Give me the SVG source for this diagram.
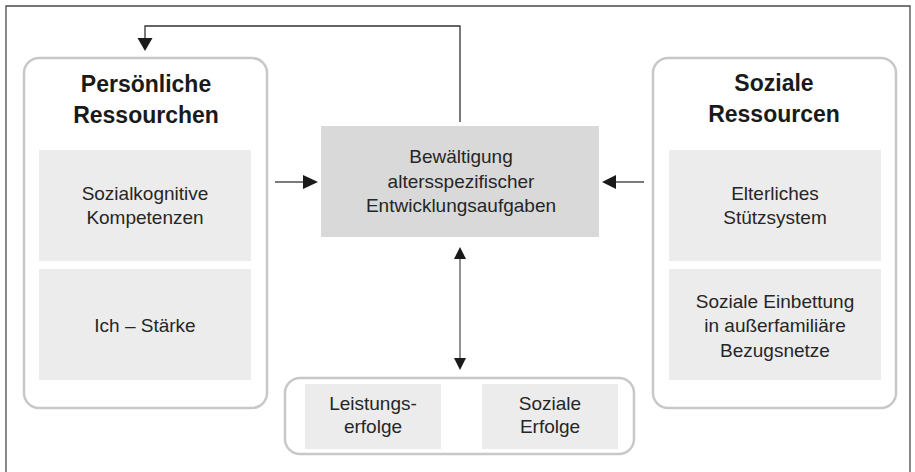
<svg xmlns="http://www.w3.org/2000/svg" width="915" height="472" viewBox="0 0 915 472">
<style>
.frame{fill:none;stroke:#4a4a4a;stroke-width:1.3}
.group{fill:#fff;stroke:#c8c8c8;stroke-width:2.5}
.inner{fill:#ececec}
.center{fill:#d9d9d9}
.t{font-family:"Liberation Sans",Arial,sans-serif;font-size:19px;fill:#262626;text-anchor:middle}
.h{font-family:"Liberation Sans",Arial,sans-serif;font-size:23px;font-weight:bold;fill:#1a1a1a;text-anchor:middle}
.c{fill:none;stroke:#333;stroke-width:1.3}
.cg{fill:none;stroke:#777;stroke-width:1.6}
.ah{fill:#1a1a1a}
</style>
<path class="frame" d="M6,472 V6 H910 V472"/>
<g id="persoenliche">
<rect class="group" x="24" y="58" width="243" height="350" rx="15"/>
<text class="h" x="146" y="92">Persönliche</text>
<text class="h" x="146" y="123">Ressourchen</text>
</g>
<g id="sozialkognitive">
<rect class="inner" x="39" y="150" width="212" height="111"/>
<text class="t" x="145" y="200">Sozialkognitive</text>
<text class="t" x="145" y="224">Kompetenzen</text>
</g>
<g id="ichstaerke">
<rect class="inner" x="39" y="269" width="212" height="111"/>
<text class="t" x="145" y="332">Ich – Stärke</text>
</g>
<g id="soziale">
<rect class="group" x="653" y="58" width="243" height="350" rx="15"/>
<text class="h" x="774" y="91">Soziale</text>
<text class="h" x="774" y="122">Ressourcen</text>
</g>
<g id="elterliches">
<rect class="inner" x="669" y="150" width="212" height="111"/>
<text class="t" x="775" y="200">Elterliches</text>
<text class="t" x="775" y="224">Stützsystem</text>
</g>
<g id="einbettung">
<rect class="inner" x="669" y="269" width="212" height="111"/>
<text class="t" x="775" y="308">Soziale Einbettung</text>
<text class="t" x="775" y="332">in außerfamiliäre</text>
<text class="t" x="775" y="357">Bezugsnetze</text>
</g>
<g id="bewaeltigung">
<rect class="center" x="321" y="126" width="278" height="111"/>
<text class="t" x="461" y="163">Bewältigung</text>
<text class="t" x="461" y="188">altersspezifischer</text>
<text class="t" x="461" y="212">Entwicklungsaufgaben</text>
</g>
<g id="erfolge">
<rect class="group" x="285" y="378" width="349" height="76" rx="15"/>
<rect class="inner" x="305" y="384" width="136" height="65"/>
<rect class="inner" x="482" y="384" width="136" height="65"/>
<text class="t" x="373" y="410">Leistungs-</text>
<text class="t" x="373" y="433">erfolge</text>
<text class="t" x="550" y="410">Soziale</text>
<text class="t" x="550" y="433">Erfolge</text>
</g>
<g id="connectors">
<path class="c" d="M460,122 V26 H145 V40"/>
<polygon class="ah" points="137.5,38 152.5,38 145,51"/>
<path class="c" d="M275,182 H305"/>
<polygon class="ah" points="303,175 318,182 303,189"/>
<path class="c" d="M644,182 H614"/>
<polygon class="ah" points="616,175 602,182 616,189"/>
<path class="cg" d="M460,257 V360"/>
<polygon class="ah" points="454,259 466,259 460,247"/>
<polygon class="ah" points="454,358 466,358 460,370"/>
</g>
</svg>
